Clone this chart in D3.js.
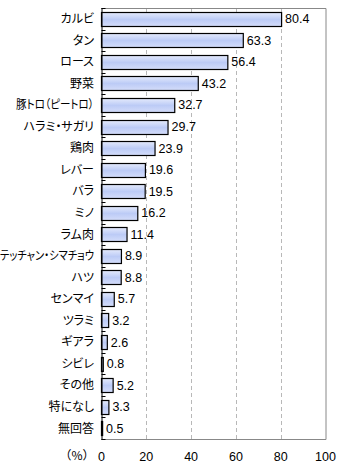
<!DOCTYPE html>
<html><head><meta charset="utf-8">
<script src="https://cdn.jsdelivr.net/npm/d3@7"></script>
<style>
body{margin:0;background:#fff;}
svg{display:block;}
.cat{font-family:"Noto Sans CJK JP",sans-serif;font-size:12px;font-feature-settings:"palt";}
.unit{font-family:"Noto Sans CJK JP",sans-serif;font-size:12px;}
.val,.tick-lab{font-family:"Liberation Sans",Arial,sans-serif;font-size:12.5px;}
</style></head><body>
<div id="chart"></div>
<script>
const categories = ["カルビ","タン","ロース","野菜","豚トロ（ピートロ）","ハラミ・サガリ","鶏肉","レバー","バラ","ミノ","ラム肉","テッチャン・シマチョウ","ハツ","センマイ","ツラミ","ギアラ","シビレ","その他","特になし","無回答"];
const values = [80.4,63.3,56.4,43.2,32.7,29.7,23.9,19.6,19.5,16.2,11.4,8.9,8.8,5.7,3.2,2.6,0.8,5.2,3.3,0.5];
const xTicks = [0,20,40,60,80,100];
const unitLabel = "（%）";

const W=340,H=470;
const L=101.5,R=325.5,T=8,B=439;
const svg=d3.select("#chart").append("svg").attr("width",W).attr("height",H);
svg.append("rect").attr("width",W).attr("height",H).attr("fill","#fff");

const defs=svg.append("defs");
const g=defs.append("linearGradient").attr("id","bg").attr("x1",0).attr("y1",0).attr("x2",0).attr("y2",1);
g.append("stop").attr("offset","0%").attr("stop-color","#e4eafc");
g.append("stop").attr("offset","50%").attr("stop-color","#bccbf6");
g.append("stop").attr("offset","100%").attr("stop-color","#d4ddfa");

const x=d3.scaleLinear().domain([0,100]).range([L,R]);
const y=d3.scaleBand().domain(categories).range([T,B]).paddingInner(0.35).paddingOuter(0.175);

// grid lines
svg.append("g").selectAll("line").data(xTicks.filter(t=>t>0&&t<100)).join("line")
  .attr("x1",d=>Math.round(x(d))+0.5).attr("x2",d=>Math.round(x(d))+0.5)
  .attr("y1",T).attr("y2",B)
  .attr("stroke","#b8b8b8").attr("stroke-dasharray","4,3");

// border
svg.append("path").attr("d",`M${L},${T+0.5}H${R+0.5}V${B+0.5}H${L}`)
  .attr("fill","none").attr("stroke","#888");

// bars
const data=categories.map((c,i)=>({c,v:values[i]}));
svg.append("g").selectAll("rect").data(data).join("rect")
  .attr("x",x(0)).attr("y",d=>Math.round(y(d.c))+0.5)
  .attr("width",d=>x(d.v)-x(0)).attr("height",Math.round(y.bandwidth()))
  .attr("fill","url(#bg)").attr("stroke","#000").attr("stroke-width",1.2);

// value labels
svg.append("g").selectAll("text").data(data).join("text").attr("class","val")
  .attr("x",d=>x(d.v)+3.5).attr("y",d=>y(d.c)+y.bandwidth()/2)
  .attr("dy","0.36em").attr("fill","#000").text(d=>d.v.toFixed(1));

// left axis line and ticks
svg.append("line").attr("x1",L+0.5).attr("x2",L+0.5).attr("y1",T).attr("y2",B+1).attr("stroke","#000");
const step=y.step();
svg.append("g").selectAll("line").data(d3.range(categories.length+1)).join("line")
  .attr("x1",L).attr("x2",L+4)
  .attr("y1",i=>Math.round(T+i*step)+0.5).attr("y2",i=>Math.round(T+i*step)+0.5)
  .attr("stroke","#000");

// category labels
const cl=svg.append("g").selectAll("text").data(categories).join("text").attr("class","cat")
  .attr("x",94).attr("y",d=>y(d)+y.bandwidth()/2).attr("dy","0.36em")
  .attr("text-anchor","end").attr("fill","#000").text(d=>d);
cl.each(function(){
  const w=this.getComputedTextLength();
  const maxW=d3.select(this).text().startsWith("豚")?78:94;
  if(w>maxW){ d3.select(this).attr("textLength",maxW).attr("lengthAdjust","spacingAndGlyphs"); }
});

// x tick labels
svg.append("g").selectAll("text").data(xTicks).join("text").attr("class","tick-lab")
  .attr("x",d=>x(d)).attr("y",456).attr("dy","0.36em").attr("text-anchor","middle")
  .attr("fill","#000").text(d=>d);
svg.append("text").attr("class","unit").attr("x",77).attr("y",456).attr("dy","0.36em")
  .attr("text-anchor","middle").attr("fill","#000").text(unitLabel);
</script>
</body></html>
